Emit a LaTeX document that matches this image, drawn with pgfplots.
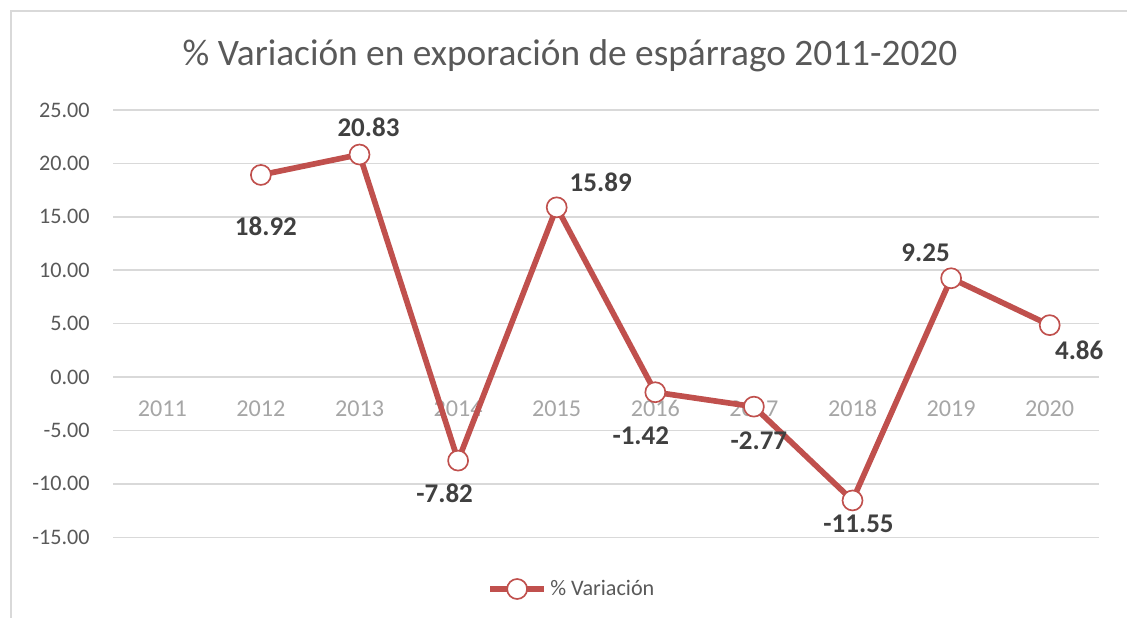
\documentclass[border=0pt]{standalone}
\usepackage{fontspec}
\setmainfont{Carlito}
\usepackage{pgfplots}
\usepackage{pgfplotstable}
\pgfplotsset{compat=1.18}
\definecolor{serie}{HTML}{C0504D}
\definecolor{rejilla}{HTML}{D9D9D9}
\definecolor{txt}{HTML}{595959}
\definecolor{lbl}{HTML}{404040}
\definecolor{xlab}{HTML}{A6A6A6}

% dx, dy: offset of the data label from its point (pt, dy up)
\pgfplotstableread{
x    y      dx    dy
2012 18.92  3     -30.6
2013 20.83  5.4   16.2
2014 -7.82  -8.1  -19.8
2015 15.89  26.4  15
2016 -1.42  -8.7  -26.4
2017 -2.77  3     -20.4
2018 -11.55 3.6   -13.8
2019 9.25   -15.3 15.6
2020 4.86   17.7  -15
}\datos

\begin{document}
\begin{tikzpicture}
\path[use as bounding box] (0pt,0pt) rectangle (676.2pt,-370.8pt);
\draw[rejilla, line width=1pt] (6.6pt,-370.8pt) -- (6.6pt,-6.6pt) -- (676.2pt,-6.6pt);
\node[txt, font=\fontsize{22.4}{27}\selectfont, inner sep=0pt] at (342pt,-33.6pt)
  {\% Variación en exporación de espárrago 2011-2020};
\begin{axis}[
  at={(67.8pt,-322.38pt)}, anchor=south west,
  scale only axis, width=591.6pt, height=256.38pt,
  xmin=2010.5, xmax=2020.5, ymin=-15, ymax=25,
  clip=false,
  axis line style={draw=none},
  major tick length=0pt,
  xtick={2011,2012,2013,2014,2015,2016,2017,2018,2019,2020},
  xticklabels={2011,2012,2013,2014,2015,2016,2017,2018,2019,2020},
  ytick={-15,-10,-5,0,5,10,15,20,25},
  yticklabels={-15.00,-10.00,-5.00,0.00,5.00,10.00,15.00,20.00,25.00},
  xticklabel style={anchor=center, inner sep=0pt, yshift=77.4pt, text=xlab,
    font=\fontsize{14.5}{17}\selectfont},
  yticklabel style={anchor=east, inner sep=0pt, xshift=-13.8pt, text=txt,
    font=\fontsize{13.3}{16}\selectfont},
  ymajorgrids,
  grid style={rejilla, line width=0.9pt},
  legend style={at={(0.466,-0.121)}, anchor=center, draw=none, fill=none,
    text=txt, font=\fontsize{13.3}{16}\selectfont},
  legend image code/.code={
    \draw[mark repeat=2, mark phase=2, #1] plot coordinates {(0pt,0pt) (16.2pt,0pt) (32.4pt,0pt)};
  },
]
\addplot[serie, line width=3.4pt, line join=round,
  mark=*, mark size=6pt, mark options={fill=white, draw=serie, line width=1pt}]
  table[x=x, y=y] {\datos};
\addlegendentry{\% Variación}
\addplot[draw=none, mark=none, forget plot,
  point meta=y,
  visualization depends on={\thisrow{dx} \as \dx},
  visualization depends on={\thisrow{dy} \as \dy},
  nodes near coords={\pgfmathprintnumber[fixed, fixed zerofill, precision=2, assume math mode=true]{\pgfplotspointmeta}},
  nodes near coords style={anchor=center, inner sep=0pt, text=lbl,
    font=\bfseries\fontsize{16.2}{19}\selectfont,
    xshift=\dx pt, yshift=\dy pt},
] table[x=x, y=y] {\datos};
\end{axis}
\end{tikzpicture}
\end{document}
